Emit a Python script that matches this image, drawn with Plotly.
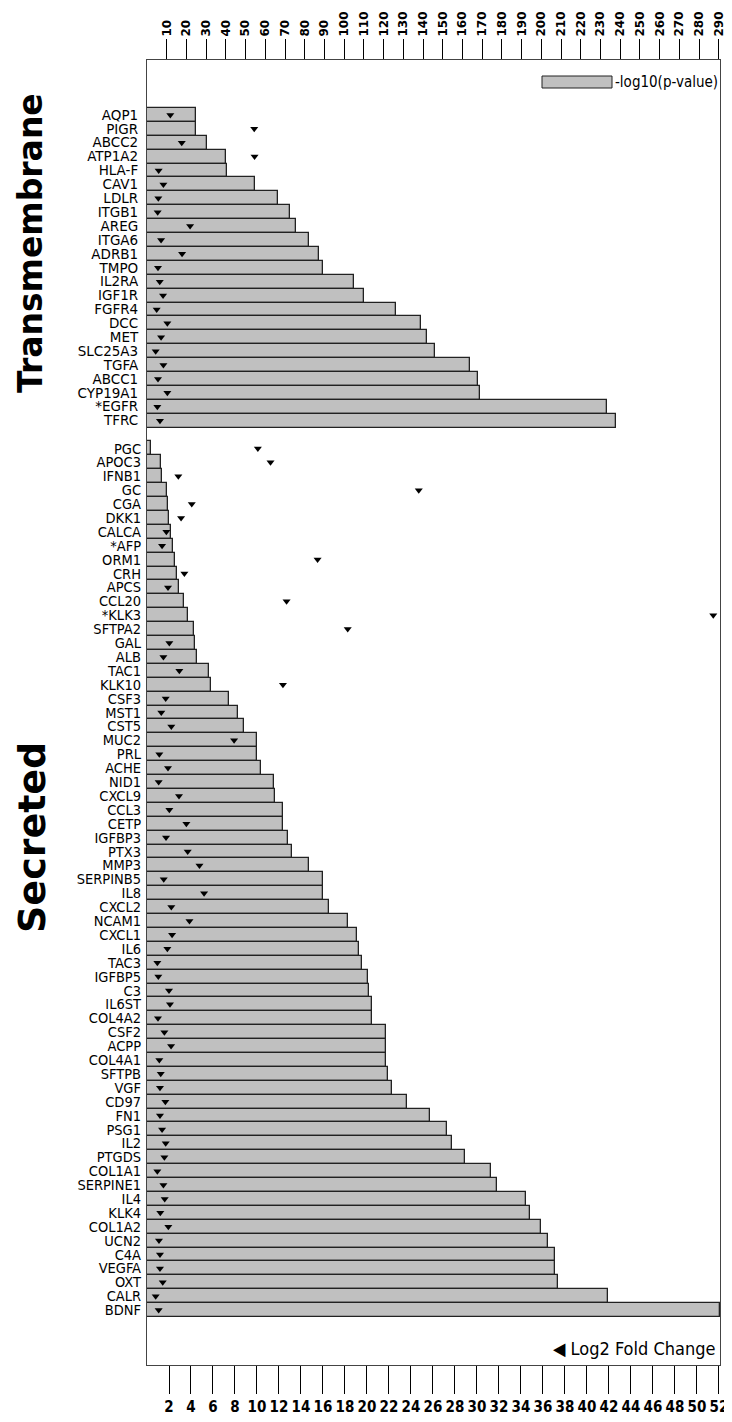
import plotly.graph_objects as go

# ---------------- data ----------------
tm_genes = ["AQP1", "PIGR", "ABCC2", "ATP1A2", "HLA-F", "CAV1", "LDLR", "ITGB1", "AREG",
            "ITGA6", "ADRB1", "TMPO", "IL2RA", "IGF1R", "FGFR4", "DCC", "MET", "SLC25A3",
            "TGFA", "ABCC1", "CYP19A1", "*EGFR", "TFRC"]
tm_pval = [24.7, 25.0, 30.6, 40.1, 40.6, 54.7, 66.4, 72.5, 75.4, 82.2, 87.2, 89.4,
           104.8, 110.3, 126.2, 138.9, 142.1, 146.0, 163.6, 167.9, 168.9, 233.4, 237.8]
tm_fc = [2.12, 9.75, 3.16, 9.78, 1.06, 1.49, 1.03, 0.97, 3.92, 1.28, 3.19, 1.00,
         1.16, 1.46, 0.88, 1.85, 1.28, 0.79, 1.49, 1.00, 1.85, 0.94, 1.18]

sec_genes = ["PGC", "APOC3", "IFNB1", "GC", "CGA", "DKK1", "CALCA", "*AFP", "ORM1", "CRH",
             "APCS", "CCL20", "*KLK3", "SFTPA2", "GAL", "ALB", "TAC1", "KLK10", "CSF3", "MST1",
             "CST5", "MUC2", "PRL", "ACHE", "NID1", "CXCL9", "CCL3", "CETP", "IGFBP3", "PTX3",
             "MMP3", "SERPINB5", "IL8", "CXCL2", "NCAM1", "CXCL1", "IL6", "TAC3", "IGFBP5", "C3",
             "IL6ST", "COL4A2", "CSF2", "ACPP", "COL4A1", "SFTPB", "VGF", "CD97", "FN1", "PSG1",
             "IL2", "PTGDS", "COL1A1", "SERPINE1", "IL4", "KLK4", "COL1A2", "UCN2", "C4A", "VEGFA",
             "OXT", "CALR", "BDNF"]
sec_pval = [1.9, 7.1, 7.6, 10.0, 10.8, 11.0, 12.3, 13.1, 14.2, 15.4,
            16.4, 19.0, 20.7, 23.7, 24.5, 25.6, 31.5, 32.5, 41.7, 45.9,
            49.1, 55.7, 55.6, 57.8, 64.5, 65.0, 68.8, 68.9, 71.3, 73.5,
            82.2, 89.3, 89.4, 92.1, 102.1, 106.5, 107.7, 109.2, 112.0, 112.8,
            114.0, 114.3, 121.3, 121.4, 121.4, 122.0, 124.3, 132.1, 143.3, 151.9,
            154.8, 161.2, 174.6, 177.7, 192.4, 194.3, 200.0, 203.4, 206.7, 206.7,
            208.3, 233.7, 290.5]
sec_fc = [10.08, 11.23, 2.85, 24.71, 4.07, 3.10, 1.76, 1.37, 15.51, 3.40,
          1.91, 12.69, 51.49, 18.25, 2.03, 1.49, 2.94, 12.36, 1.70, 1.30,
          2.21, 7.92, 1.12, 1.91, 1.06, 2.91, 2.03, 3.58, 1.73, 3.70,
          4.77, 1.52, 5.19, 2.21, 3.86, 2.28, 1.85, 0.94, 1.03, 2.00,
          2.09, 1.00, 1.58, 2.19, 1.12, 1.25, 1.18, 1.67, 1.18, 1.37,
          1.70, 1.58, 0.94, 1.49, 1.61, 1.21, 1.94, 1.09, 1.18, 1.18,
          1.43, 0.79, 1.06]

pval_ticks = list(range(10, 300, 10))
fc_ticks = list(range(2, 54, 2))

# ---------------- layout helpers ----------------
tm_pos = list(range(len(tm_genes)))
sec_start = len(tm_genes) + 1
sec_pos = [sec_start + i for i in range(len(sec_genes))]
all_pos = tm_pos + sec_pos

BAR_FILL = "#c0c0c0"
EDGE = "#222222"
NARROW = "Liberation Sans Narrow, DejaVu Sans Condensed, Arial Narrow, sans-serif"

fig = go.Figure()

# bars on the top (p-value) axis
fig.add_trace(go.Bar(
    x=tm_pval + sec_pval, y=all_pos, orientation="h",
    xaxis="x", yaxis="y", width=1.0,
    marker=dict(color=BAR_FILL, line=dict(color=EDGE, width=1.3)),
    showlegend=False, name="-log10(p-value)"))

# invisible trace to anchor the secreted label axis
fig.add_trace(go.Scatter(x=[0], y=[sec_pos[0]], xaxis="x", yaxis="y3",
                         mode="markers", marker=dict(opacity=0), showlegend=False,
                         hoverinfo="skip"))

# triangles on the bottom (fold change) axis, drawn on top of bars
fig.add_trace(go.Scatter(
    x=tm_fc + sec_fc, y=all_pos, mode="markers",
    xaxis="x2", yaxis="y",
    marker=dict(symbol="triangle-down", size=7, color="black"),
    showlegend=False, name="Log2 Fold Change"))

yrange = [sec_pos[-1] + 3.95, -3.95]

# the page body adds an 8px offset; figure is sized so the plot box lands at
# page x 147..720, y 60..1365
fig.update_layout(
    width=724, height=1414,
    margin=dict(l=139, r=12, t=52, b=57),
    paper_bgcolor="white", plot_bgcolor="white",
    bargap=0,
    xaxis=dict(range=[0, 290.6], side="top", tickmode="array",
               tickvals=pval_ticks, ticks="outside", ticklen=20, tickwidth=1,
               tickcolor="black", tickangle=-90, automargin=False,
               tickfont=dict(family="DejaVu Sans", size=12, color="black", weight="bold"),
               showgrid=False, zeroline=False,
               showline=True, linecolor="#444", linewidth=1.2, mirror=True),
    xaxis2=dict(range=[0, 52.1], side="bottom", overlaying="x", anchor="y",
                tickmode="array", tickvals=fc_ticks, tickangle=0,
                ticks="outside", ticklen=28, tickwidth=1, tickcolor="black",
                automargin=False,
                tickfont=dict(family=NARROW, size=15, color="black", weight="bold"),
                showgrid=False, zeroline=False, showline=False),
    yaxis=dict(range=yrange, tickmode="array", tickvals=tm_pos, ticktext=tm_genes,
               tickfont=dict(family="DejaVu Sans", size=13.5, color="black"),
               ticks="", showgrid=False, zeroline=False, automargin=False,
               showline=True, linecolor="#444", linewidth=1.2, mirror=True,
               ticklabelstandoff=5),
    yaxis3=dict(range=yrange, overlaying="y", side="left", anchor="x",
                tickmode="array", tickvals=sec_pos, ticktext=sec_genes,
                tickfont=dict(family=NARROW, size=14.5, color="black"),
                ticks="", showgrid=False, zeroline=False, showline=False,
                automargin=False, ticklabelstandoff=5),
)

def px_x(p):
    return (p - 147) / (720 - 147)

def px_y(p):
    return (1365 - p) / (1365 - 60)

# group titles
fig.add_annotation(text="<b>Transmembrane</b>", textangle=-90, xref="paper", yref="paper",
                   x=px_x(31), y=px_y(243), xanchor="center", yanchor="middle",
                   showarrow=False, font=dict(family="DejaVu Sans", size=33, color="black"))
fig.add_annotation(text="<b>Secreted</b>", textangle=-90, xref="paper", yref="paper",
                   x=px_x(32), y=px_y(838), xanchor="center", yanchor="middle",
                   showarrow=False, font=dict(family="DejaVu Sans", size=38, color="black"))

# legend (top right)
fig.add_shape(type="rect", xref="paper", yref="paper",
              x0=px_x(542), x1=px_x(612), y0=px_y(88), y1=px_y(76),
              fillcolor=BAR_FILL, line=dict(color=EDGE, width=1))
fig.add_annotation(text="-log10(p-value)", xref="paper", yref="paper",
                   x=px_x(613), y=px_y(82), xanchor="left", yanchor="middle",
                   showarrow=False, font=dict(family=NARROW, size=15, color="black"))
# legend (bottom right)
fig.add_annotation(text="◀ Log2 Fold Change", xref="paper", yref="paper",
                   x=px_x(717), y=px_y(1348), xanchor="right", yanchor="middle",
                   showarrow=False, font=dict(family=NARROW, size=18, color="black"))

fig.write_html("out.html")
